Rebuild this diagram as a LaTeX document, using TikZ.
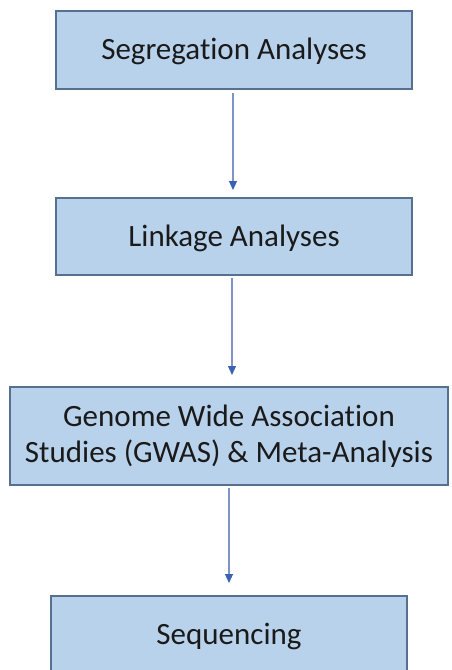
\documentclass[tikz,border=0pt]{standalone}
\usepackage{fontspec}
\setmainfont[Ligatures=NoCommon]{Carlito}
\usetikzlibrary{arrows.meta}
\definecolor{boxfill}{HTML}{B9D2EC}
\definecolor{boxline}{HTML}{56708F}
\definecolor{arrline}{HTML}{7F93C9}
\definecolor{arrtip}{HTML}{3A62B2}
\definecolor{txt}{HTML}{1A1A1A}
\begin{document}
\begin{tikzpicture}[x=1pt,y=-1pt,
  stagebox/.style={draw=boxline,line width=1.4pt,fill=boxfill,inner sep=0pt,outer sep=0pt,
    text=txt,font=\fontsize{31}{36}\selectfont},
  oneline/.style={text height=19pt,text depth=0pt},
  flow/.style={draw=arrline,line width=1.1pt,
    -{Triangle[length=9pt,width=8pt,color=arrtip]}}]
\useasboundingbox (0,0) rectangle (451,670);
\node[stagebox,oneline,minimum width=356pt,minimum height=78pt] (seg) at (234,50) {Segregation Analyses};
\node[stagebox,oneline,minimum width=356pt,minimum height=77pt] (link) at (234,236.5) {Linkage Analyses};
\node[stagebox,align=center,minimum width=438pt,minimum height=98pt] (gwas) at (229,436) {Genome Wide Association\\Studies (GWAS) \& Meta-Analysis};
\node[stagebox,oneline,minimum width=356pt,minimum height=78pt] (seq) at (229,635) {Sequencing};
\draw[flow,shorten <=4pt,shorten >=8pt] ([xshift=-1pt]seg.south) -- ([xshift=-1pt]link.north);
\draw[flow,shorten <=3pt,shorten >=12pt] ([xshift=-2pt]link.south) -- ([xshift=3pt]gwas.north);
\draw[flow,shorten <=3pt,shorten >=13pt] (gwas.south) -- (seq.north);
\end{tikzpicture}
\end{document}
